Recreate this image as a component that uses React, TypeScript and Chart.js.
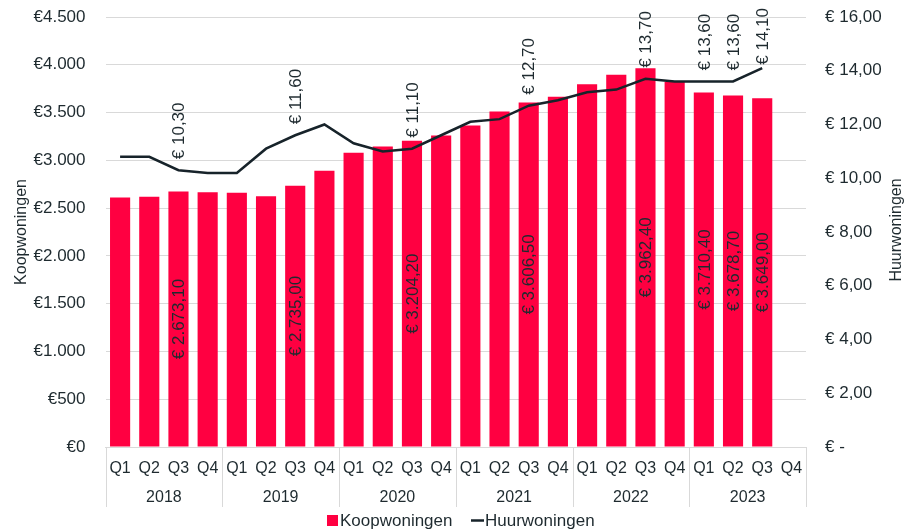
import { useEffect, useRef } from 'react';
import { Chart, registerables } from 'chart.js';

Chart.register(...registerables);

const quarters = ['Q1', 'Q2', 'Q3', 'Q4'];
const years = ['2018', '2019', '2020', '2021', '2022', '2023'];
const categories = years.flatMap((y) => quarters.map((q) => `${q} ${y}`));

const koopwoningen = [
  2610, 2620, 2673.1, 2665,
  2660, 2625, 2735.0, 2890,
  3080, 3145, 3204.2, 3260,
  3365, 3510, 3606.5, 3665,
  3795, 3895, 3962.4, 3820,
  3710.4, 3678.7, 3649.0, null,
];

const huurwoningen = [
  10.8, 10.8, 10.3, 10.2,
  10.2, 11.1, 11.6, 12.0,
  11.3, 11.0, 11.1, 11.6,
  12.1, 12.2, 12.7, 12.9,
  13.2, 13.3, 13.7, 13.6,
  13.6, 13.6, 14.1, null,
];

const labeledIndices = [2, 6, 10, 14, 18, 20, 21, 22];

const leftTitle = 'Koopwoningen';
const rightTitle = 'Huurwoningen';

const FONT = "'Liberation Sans', Arial, sans-serif";
const TEXT = '#1e2a2f';
const BAR = '#ff0041';
const LINE = '#17232a';
const GRID = '#d9d9d9';

function dots(n: number): string {
  return String(n).replace(/\B(?=(\d{3})+(?!\d))/g, '.');
}
function fmtLeft(v: number): string {
  return '€' + dots(Math.round(v));
}
function fmtRight(v: number): string {
  if (v === 0) return '€ -';
  return '€ ' + v.toFixed(2).replace('.', ',');
}
function fmtBar(v: number): string {
  const [i, d] = v.toFixed(2).split('.');
  return '€ ' + dots(Number(i)) + ',' + d;
}
function fmtLine(v: number): string {
  return '€ ' + v.toFixed(2).replace('.', ',');
}

const overlay = {
  id: 'overlay',
  afterDatasetsDraw(chart: any) {
    const ctx = chart.ctx;
    const lineMeta = chart.getDatasetMeta(0);
    const barMeta = chart.getDatasetMeta(1);
    ctx.save();
    ctx.fillStyle = TEXT;
    ctx.font = `17px ${FONT}`;
    ctx.textBaseline = 'middle';
    labeledIndices.forEach((i) => {
      const bar = barMeta.data[i];
      const bv = koopwoningen[i];
      if (bar && bv != null) {
        const cy = (bar.y + bar.base) / 2;
        ctx.save();
        ctx.translate(bar.x, cy);
        ctx.rotate(-Math.PI / 2);
        ctx.textAlign = 'center';
        ctx.fillText(fmtBar(bv), 0, 1);
        ctx.restore();
      }
      const pt = lineMeta.data[i];
      const lv = huurwoningen[i];
      if (pt && lv != null) {
        const txt = fmtLine(lv);
        const w = ctx.measureText(txt).width;
        let start = pt.y - 11;
        if (start - w < 8) start = 8 + w;
        ctx.save();
        ctx.translate(pt.x, start);
        ctx.rotate(-Math.PI / 2);
        ctx.textAlign = 'left';
        ctx.fillText(txt, 0, 1);
        ctx.restore();
      }
    });
    ctx.restore();
  },
  afterDraw(chart: any) {
    const ctx = chart.ctx;
    const area = chart.chartArea;
    const n = categories.length;
    const cw = (area.right - area.left) / n;
    ctx.save();
    // group separators
    ctx.strokeStyle = GRID;
    ctx.lineWidth = 1;
    for (let k = 0; k <= years.length; k++) {
      const x = Math.round(area.left + k * 4 * cw) + 0.5;
      ctx.beginPath();
      ctx.moveTo(x, area.bottom);
      ctx.lineTo(x, area.bottom + 60);
      ctx.stroke();
    }
    // year labels
    ctx.fillStyle = TEXT;
    ctx.font = `16px ${FONT}`;
    ctx.textAlign = 'center';
    ctx.textBaseline = 'middle';
    years.forEach((y, k) => {
      const x = area.left + (k * 4 + 2) * cw;
      ctx.fillText(y, x, 498);
    });
    // axis titles
    ctx.font = `16px ${FONT}`;
    ctx.save();
    ctx.translate(22, 232);
    ctx.rotate(-Math.PI / 2);
    ctx.fillText(leftTitle, 0, 0);
    ctx.restore();
    ctx.save();
    ctx.translate(897, 230);
    ctx.rotate(-Math.PI / 2);
    ctx.fillText(rightTitle, 0, 0);
    ctx.restore();
    // legend
    ctx.font = `17px ${FONT}`;
    ctx.textAlign = 'left';
    ctx.fillStyle = BAR;
    ctx.fillRect(327, 515, 11, 11);
    ctx.fillStyle = TEXT;
    ctx.fillText(chart.data.datasets[1].label, 340, 521);
    ctx.strokeStyle = LINE;
    ctx.lineWidth = 2.5;
    ctx.beginPath();
    ctx.moveTo(471, 520.5);
    ctx.lineTo(484, 520.5);
    ctx.stroke();
    ctx.fillText(chart.data.datasets[0].label, 485, 521);
    ctx.restore();
  },
};

export default function App() {
  const ref = useRef<HTMLCanvasElement | null>(null);
  useEffect(() => {
    if (!ref.current) return;
    const chart = new Chart(ref.current, {
      type: 'bar',
      data: {
        labels: categories,
        datasets: [
          {
            type: 'line',
            label: 'Huurwoningen',
            data: huurwoningen as any,
            yAxisID: 'y1',
            borderColor: LINE,
            backgroundColor: LINE,
            borderWidth: 2.5,
            pointRadius: 0,
            tension: 0,
            order: 0,
          } as any,
          {
            type: 'bar',
            label: 'Koopwoningen',
            data: koopwoningen as any,
            yAxisID: 'y',
            backgroundColor: BAR,
            borderWidth: 0,
            categoryPercentage: 1,
            barPercentage: 0.69,
            order: 1,
          } as any,
        ],
      },
      options: {
        responsive: false,
        animation: false,
        layout: { padding: { top: 17, left: 0, right: 0, bottom: 0 } },
        plugins: {
          legend: { display: false },
          tooltip: { enabled: false },
        },
        scales: {
          x: {
            grid: { display: false, drawTicks: false },
            border: { display: true, color: GRID, width: 1 },
            ticks: {
              color: TEXT,
              font: { family: FONT, size: 16 },
              padding: 12,
              maxRotation: 0,
              autoSkip: false,
              callback: (_v: any, i: number) => quarters[i % 4],
            },
            afterFit: (s: any) => {
              s.height = 82;
              s.paddingLeft = 0;
              s.paddingRight = 0;
            },
          },
          y: {
            position: 'left',
            min: 0,
            max: 4500,
            grid: { color: GRID, drawTicks: false, lineWidth: 1 },
            border: { display: false },
            ticks: {
              stepSize: 500,
              color: TEXT,
              font: { family: FONT, size: 17 },
              padding: 20,
              callback: (v: any) => fmtLeft(Number(v)),
            },
            afterFit: (s: any) => {
              s.width = 105.5;
              s.paddingTop = 0;
              s.paddingBottom = 0;
            },
          },
          y1: {
            position: 'right',
            min: 0,
            max: 16,
            grid: { display: false, drawTicks: false },
            border: { display: false },
            ticks: {
              stepSize: 2,
              color: TEXT,
              font: { family: FONT, size: 17 },
              padding: 19,
              callback: (v: any) => fmtRight(Number(v)),
            },
            afterFit: (s: any) => {
              s.width = 99;
              s.paddingTop = 0;
              s.paddingBottom = 0;
            },
          },
        },
      },
      plugins: [overlay],
    });
    return () => chart.destroy();
  }, []);
  return (
    <div style={{ position: 'fixed', left: 0, top: 0, width: 905, height: 529, background: '#fff' }}>
      <canvas ref={ref} width={905} height={529} style={{ display: 'block' }} />
    </div>
  );
}
